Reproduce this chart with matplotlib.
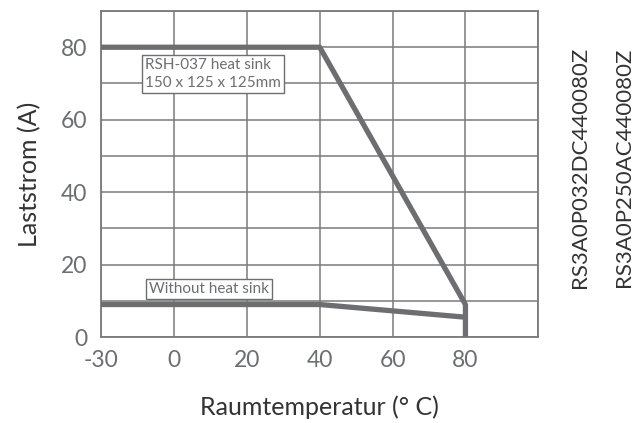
import numpy as np
import matplotlib.pyplot as plt

# temperature breakpoints on the x axis (unevenly spaced on paper)
x_ticks = [-30, 0, 20, 40, 60, 80, 100]
x_tick_labels = ["-30", "0", "20", "40", "60", "80", ""]
y_ticks = [0, 20, 40, 60, 80]

# derating curves
temp_sink = [-30, 40, 80, 80]
curr_sink = [80, 80, 9, 0]
temp_bare = [-30, 40, 80]
curr_bare = [9, 9, 5.5]

models = ["RS3A0P032DC440080Z", "RS3A0P250AC440080Z"]

plt.rcParams['font.family'] = ['Lato', 'DejaVu Sans']

pos = np.arange(len(x_ticks))


def fwd(x):
    return np.interp(x, x_ticks, pos)


def inv(p):
    return np.interp(p, pos, x_ticks)


fig = plt.figure(figsize=(6.37, 4.23), dpi=100)
ax = fig.add_axes([0.159, 0.203, 0.686, 0.771])
ax.set_xscale('function', functions=(fwd, inv))

line_col = '#6d6e71'
ax.plot(temp_sink, curr_sink, color=line_col, lw=3.8, solid_capstyle='round', zorder=3)
ax.plot(temp_bare, curr_bare, color=line_col, lw=3.8, solid_capstyle='round', zorder=3)

ax.set_xlim(-30, 100)
ax.set_ylim(0, 90)
ax.set_xticks(x_ticks)
ax.set_xticklabels(x_tick_labels)
ax.set_yticks(y_ticks)
ax.set_yticks(np.arange(0, 91, 10), minor=True)
ax.grid(True, which='both', color='#7a7a7a', lw=1.1)
ax.tick_params(which='both', length=0, labelsize=16.5, labelcolor='#6d6e71')
ax.tick_params(axis='x', pad=9)
ax.tick_params(axis='y', pad=10)
for s in ax.spines.values():
    s.set_color('#7a7a7a')
    s.set_linewidth(1.3)

ax.set_xlabel("Raumtemperatur (° C)", fontsize=18, color='#333333', labelpad=18)
ax.set_ylabel("Laststrom (A)", fontsize=18, color='#333333', labelpad=14)

box = dict(boxstyle='square,pad=0.2', fc='white', ec='#6d6e71', lw=1.0)
ax.text(0.10, 0.855, "RSH-037 heat sink\n150 x 125 x 125mm", transform=ax.transAxes,
        fontsize=11, color='#6d6e71', va='top', ha='left', bbox=box, linespacing=1.3, zorder=4)
ax.text(0.11, 0.125, "Without heat sink", transform=ax.transAxes,
        fontsize=11, color='#6d6e71', va='bottom', ha='left', bbox=box, zorder=4)

for xf, name in zip([0.91, 0.98], models):
    fig.text(xf, 0.605, name, rotation=90, fontsize=16, color='#333333',
             ha='center', va='center')

fig.savefig("out.png", dpi=100)
